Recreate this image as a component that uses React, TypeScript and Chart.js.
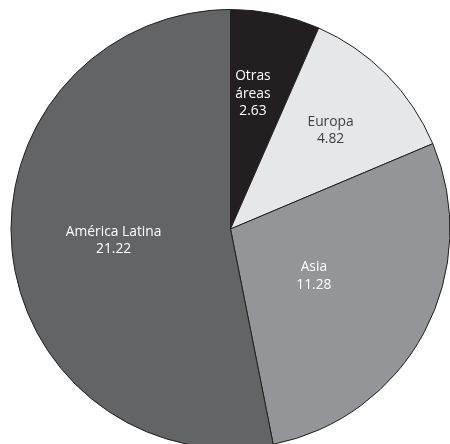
import React, { useEffect, useRef } from "react";
import { Chart, registerables } from "chart.js";

Chart.register(...registerables);

const categories: string[][] = [["Otras", "áreas"], ["Europa"], ["Asia"], ["América Latina"]];
const values: number[] = [2.63, 4.82, 11.28, 21.22];
const valueLabels: string[] = ["2.63", "4.82", "11.28", "21.22"];
const sliceColors: string[] = ["#231f20", "#e6e7e8", "#939598", "#636466"];
const textColors: string[] = ["#ffffff", "#414042", "#ffffff", "#ffffff"];
const labelRadius: number[] = [0.63, 0.64, 0.43, 0.535];
const labelNudgeX: number[] = [-6, 0, 0, 0];
const labelNudgeY: number[] = [0, 0, 3, 0];

const labelPlugin = {
  id: "sliceLabels",
  afterDatasetsDraw(chart: any) {
    const meta = chart.getDatasetMeta(0);
    const ctx = chart.ctx;
    ctx.save();
    ctx.font = '13.8px "Open Sans", sans-serif';
    ctx.textAlign = "center";
    ctx.textBaseline = "middle";
    const lh = 17.5;
    meta.data.forEach((arc: any, i: number) => {
      const { x, y, startAngle, endAngle, outerRadius } = arc.getProps(
        ["x", "y", "startAngle", "endAngle", "outerRadius"],
        true
      );
      const mid = (startAngle + endAngle) / 2;
      const r = outerRadius * labelRadius[i];
      const cx = x + Math.cos(mid) * r + labelNudgeX[i];
      const cy = y + Math.sin(mid) * r + labelNudgeY[i];
      const lines = [...categories[i], valueLabels[i]];
      const top = cy - ((lines.length - 1) * lh) / 2;
      ctx.fillStyle = textColors[i];
      lines.forEach((t, j) => ctx.fillText(t, cx, top + j * lh));
    });
    ctx.restore();
  },
};

export default function App() {
  const ref = useRef<HTMLCanvasElement | null>(null);
  useEffect(() => {
    document.body.style.margin = "0";
    document.body.style.overflow = "hidden";
    const chart = new Chart(ref.current as HTMLCanvasElement, {
      type: "pie",
      data: {
        labels: categories.map((c) => c.join(" ")),
        datasets: [
          {
            data: values,
            backgroundColor: sliceColors,
            borderColor: "#231f20",
            borderWidth: 1,
          },
        ],
      },
      options: {
        responsive: false,
        animation: false,
        devicePixelRatio: 1,
        layout: { padding: { left: 10, right: 9, top: 9, bottom: 11 } },
        plugins: {
          legend: { display: false },
          tooltip: { enabled: false },
        },
      },
      plugins: [labelPlugin],
    });
    return () => chart.destroy();
  }, []);
  return (
    <div style={{ position: "relative", width: 450, height: 444, overflow: "hidden", background: "#fff" }}>
      <canvas ref={ref} width={460} height={460} style={{ position: "absolute", left: 0, top: 0 }} />
    </div>
  );
}
